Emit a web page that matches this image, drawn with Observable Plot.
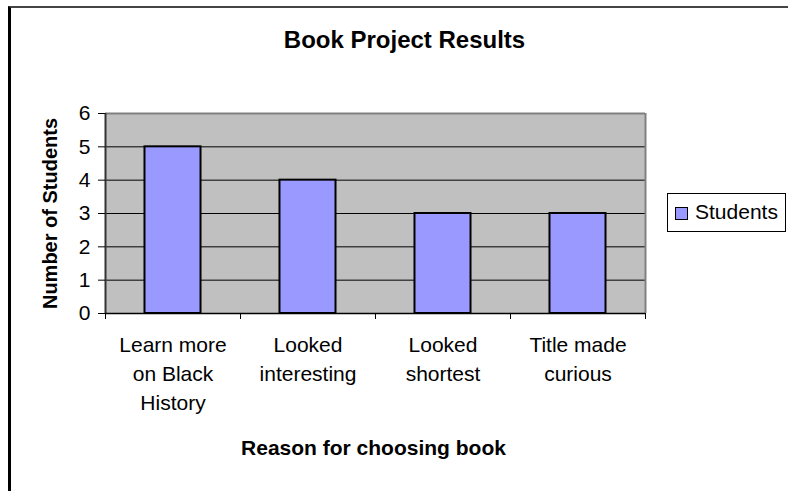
<!DOCTYPE html>
<html>
<head>
<meta charset="utf-8">
<script src="https://cdn.jsdelivr.net/npm/d3@7"></script>
<script src="https://cdn.jsdelivr.net/npm/@observablehq/plot@0.6"></script>
<style>
  html, body { margin: 0; padding: 0; background: #fff; overflow: hidden; }
  body { width: 788px; height: 491px; position: relative; font-family: "Liberation Sans", Arial, sans-serif; }
  #frame { position: absolute; left: 8px; top: 6px; right: -20px; bottom: -20px;
           border-left: 3px solid #000; border-top: 2px solid #444; pointer-events: none; }
  #chart { position: absolute; left: 0; top: 0; }
  #legend { position: absolute; left: 667px; top: 193px; width: 119px; height: 39px;
            border: 1px solid #000; background: #fff; box-sizing: border-box; }
  #legend .sw { position: absolute; left: 7px; top: 13px; width: 13px; height: 13px;
                background: #9999FF; border: 1.5px solid #000; box-sizing: border-box; }
  #legend .lbl { position: absolute; left: 27px; top: 6px; font-size: 21px; line-height: 24px; color: #000; }
</style>
</head>
<body>
<div id="chart"></div>
<div id="frame"></div>
<div id="legend"><div class="sw"></div><div class="lbl"></div></div>
<script>
// ---- data ----
const categories = ["Learn more\non Black\nHistory", "Looked\ninteresting", "Looked\nshortest", "Title made\ncurious"];
const students = [5, 4, 3, 3];
const yTicks = [0, 1, 2, 3, 4, 5, 6];
const seriesName = "Students";
const title = "Book Project Results";
const xTitle = "Reason for choosing book";
const yTitle = "Number of Students";

const data = categories.map((c, i) => ({i, label: c, value: students[i]}));
const boundaries = d3.range(categories.length + 1);
const barRatio = 0.415;

const plot = Plot.plot({
  width: 788,
  height: 491,
  marginLeft: 105,
  marginRight: 143,
  marginTop: 113,
  marginBottom: 178,
  style: {fontFamily: '"Liberation Sans", Arial, sans-serif', fontSize: "21px", color: "#000", background: "transparent", overflow: "visible"},
  x: {domain: [0, categories.length], axis: null},
  y: {domain: [0, 6], axis: null},
  marks: [
    Plot.frame({fill: "#C0C0C0", stroke: null}),
    Plot.ruleY(yTicks.filter(v => v > 0 && v < 6), {stroke: "#000", strokeWidth: 1}),
    Plot.ruleY([6], {stroke: "#808080", strokeWidth: 2}),
    Plot.ruleX([categories.length], {stroke: "#808080", strokeWidth: 2}),
    Plot.rect(data, {
      x1: d => d.i + 0.5 - barRatio / 2,
      x2: d => d.i + 0.5 + barRatio / 2,
      y1: 0, y2: "value",
      fill: "#9999FF", stroke: "#000", strokeWidth: 2
    }),
    Plot.ruleX([0], {stroke: "#333", strokeWidth: 2}),
    Plot.ruleY([0], {stroke: "#000", strokeWidth: 1.5}),
    Plot.axisY({ticks: yTicks, tickFormat: d3.format("d"), tickSize: 7, tickPadding: 8, fontSize: 21, label: null, stroke: "#000"}),
    Plot.axisX({ticks: boundaries, tickSize: 6, tickFormat: () => "", label: null, stroke: "#000"}),
    Plot.text(data, {
      x: d => d.i + 0.5, y: 0, text: "label",
      lineAnchor: "top", lineHeight: 1.38, dy: 18, fontSize: 21, fill: "#000"
    }),
    Plot.text([title], {frameAnchor: "top", lineAnchor: "bottom", dx: 29, dy: -66, fontSize: 24, fontWeight: "bold", fill: "#000"}),
    Plot.text([xTitle], {frameAnchor: "bottom", lineAnchor: "bottom", dx: -2, dy: 141, fontSize: 21, fontWeight: "bold", fill: "#000"}),
    Plot.text([yTitle], {frameAnchor: "left", textAnchor: "middle", rotate: -90, dx: -55, fontSize: 20, fontWeight: "bold", fill: "#000"})
  ]
});
document.getElementById("chart").appendChild(plot);
document.querySelector("#legend .lbl").textContent = seriesName;
</script>
</body>
</html>
